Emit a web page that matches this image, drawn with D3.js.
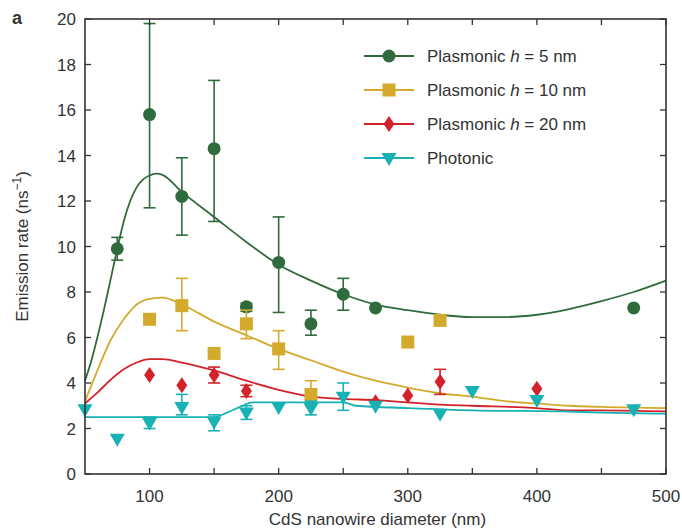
<!DOCTYPE html>
<html>
<head>
<meta charset="utf-8">
<script src="https://cdn.jsdelivr.net/npm/d3@7"></script>
<style>
body { margin: 0; background: #fff; }
text { font-family: "Liberation Sans", Arial, sans-serif; fill: #333; }
</style>
</head>
<body>
<script>
// measured points (diameter nm, rate ns^-1, error low/high or null)
var g5_x = [75, 100, 125, 150, 175, 200, 225, 250, 275, 475];
var g5_y = [9.9, 15.8, 12.2, 14.3, 7.35, 9.3, 6.6, 7.9, 7.3, 7.3];
var g5_lo = [9.4, 11.7, 10.5, 11.1, 7.15, 7.1, 6.1, 7.2, null, null];
var g5_hi = [10.4, 19.8, 13.9, 17.3, 7.5, 11.3, 7.2, 8.6, null, null];

var g10_x = [100, 125, 150, 175, 200, 225, 300, 325];
var g10_y = [6.8, 7.4, 5.3, 6.6, 5.5, 3.5, 5.8, 6.75];
var g10_lo = [null, 6.3, null, 5.95, 4.6, 3.0, null, null];
var g10_hi = [null, 8.6, null, 7.2, 6.3, 4.1, null, null];

var g20_x = [100, 125, 150, 175, 275, 300, 325, 400];
var g20_y = [4.35, 3.9, 4.35, 3.65, 3.15, 3.45, 4.05, 3.75];
var g20_lo = [null, null, 4.0, 3.4, null, null, 3.5, null];
var g20_hi = [null, null, 4.7, 3.9, null, null, 4.6, null];

var ph_x = [50, 75, 100, 125, 150, 175, 200, 225, 250, 275, 325, 350, 400, 475];
var ph_y = [2.85, 1.55, 2.25, 2.95, 2.3, 2.7, 2.95, 2.9, 3.4, 3.0, 2.65, 3.65, 3.25, 2.85];
var ph_lo = [null, null, 2.0, 2.6, 1.9, 2.4, null, 2.6, 2.8, null, null, null, null, null];
var ph_hi = [null, null, 2.5, 3.5, 2.6, 3.0, null, 3.2, 4.0, null, null, null, null, null];

// simulated curves
var c5_x = [50, 55, 60, 65, 70, 75, 80, 85, 90, 95, 100, 105, 110, 125, 150, 175, 200, 225, 250, 275, 300, 325, 350, 375, 400, 425, 450, 475, 500];
var c5_y = [4.1, 5.0, 6.1, 7.3, 8.6, 9.9, 11.1, 12.0, 12.6, 12.95, 13.12, 13.2, 13.15, 12.4, 11.3, 10.2, 9.2, 8.5, 7.9, 7.45, 7.2, 7.0, 6.9, 6.9, 7.0, 7.25, 7.6, 8.0, 8.5];
var c10_x = [50, 60, 70, 80, 90, 100, 110, 125, 150, 175, 200, 225, 250, 275, 300, 325, 350, 375, 400, 425, 450, 500];
var c10_y = [3.2, 4.6, 5.9, 6.8, 7.45, 7.7, 7.75, 7.45, 6.7, 6.1, 5.5, 5.0, 4.5, 4.1, 3.8, 3.55, 3.4, 3.2, 3.1, 3.0, 2.95, 2.9];
var c20_x = [50, 60, 70, 80, 90, 100, 110, 125, 150, 175, 200, 225, 250, 275, 300, 325, 350, 400, 425, 450, 500];
var c20_y = [3.1, 3.6, 4.15, 4.6, 4.9, 5.05, 5.05, 4.9, 4.55, 4.1, 3.7, 3.4, 3.3, 3.25, 3.15, 3.05, 3.0, 2.9, 2.8, 2.8, 2.75];
var cph_x = [50, 100, 150, 160, 170, 180, 250, 260, 300, 350, 420, 450, 500];
var cph_y = [2.5, 2.5, 2.5, 2.7, 2.95, 3.15, 3.15, 3.0, 2.9, 2.8, 2.75, 2.7, 2.65];

var xTicks = [100, 200, 300, 400, 500];
var xMinor = [150, 250, 350, 450];
var yTicks = [0, 2, 4, 6, 8, 10, 12, 14, 16, 18, 20];

var series = [
  {name: "5", color: "#2f6b3c", shape: "circle", x: g5_x, y: g5_y, lo: g5_lo, hi: g5_hi, cx: c5_x, cy: c5_y},
  {name: "10", color: "#d4aa2c", shape: "square", x: g10_x, y: g10_y, lo: g10_lo, hi: g10_hi, cx: c10_x, cy: c10_y},
  {name: "20", color: "#d2232a", shape: "diamond", x: g20_x, y: g20_y, lo: g20_lo, hi: g20_hi, cx: c20_x, cy: c20_y},
  {name: "Photonic", color: "#18b1b4", shape: "tri", x: ph_x, y: ph_y, lo: ph_lo, hi: ph_hi, cx: cph_x, cy: cph_y}
];

var W = 682, H = 532;
var pl = 85, pr = 666, pt = 19, pb = 474;

var svg = d3.select("body").append("svg")
  .attr("width", W).attr("height", H);

var x = d3.scaleLinear().domain([50, 500]).range([pl, pr]);
var y = d3.scaleLinear().domain([0, 20]).range([pb, pt]);

// curves
var line = d3.line().x(d => x(d[0])).y(d => y(d[1])).curve(d3.curveMonotoneX);
series.forEach(s => {
  svg.append("path")
    .datum(s.cx.map((v, i) => [v, s.cy[i]]))
    .attr("d", line)
    .attr("fill", "none")
    .attr("stroke", s.color)
    .attr("stroke-width", 1.8);
});

function drawMarker(g, shape, color) {
  if (shape == "circle") {
    g.append("circle").attr("r", 6.5).attr("fill", color);
  } else if (shape == "square") {
    g.append("rect").attr("x", -6.5).attr("y", -6.5).attr("width", 13).attr("height", 13).attr("fill", color);
  } else if (shape == "diamond") {
    g.append("path").attr("d", "M0,-8 L5.5,0 L0,8 L-5.5,0Z").attr("fill", color);
  } else {
    g.append("path").attr("d", "M-7.5,-5 L7.5,-5 L0,8Z").attr("fill", color);
  }
}

// error bars + markers
series.forEach(s => {
  var pts = s.x.map((v, i) => ({x: v, y: s.y[i], lo: s.lo[i], hi: s.hi[i]}));
  var eb = svg.append("g").attr("stroke", s.color).attr("stroke-width", 1.6);
  pts.filter(d => d.lo != null).forEach(d => {
    eb.append("line").attr("x1", x(d.x)).attr("x2", x(d.x)).attr("y1", y(d.lo)).attr("y2", y(d.hi));
    eb.append("line").attr("x1", x(d.x) - 6).attr("x2", x(d.x) + 6).attr("y1", y(d.lo)).attr("y2", y(d.lo));
    eb.append("line").attr("x1", x(d.x) - 6).attr("x2", x(d.x) + 6).attr("y1", y(d.hi)).attr("y2", y(d.hi));
  });
  pts.forEach(d => {
    var g = svg.append("g").attr("transform", `translate(${x(d.x)},${y(d.y)})`);
    drawMarker(g, s.shape, s.color);
  });
});

// frame and ticks
svg.append("rect")
  .attr("x", pl).attr("y", pt)
  .attr("width", pr - pl).attr("height", pb - pt)
  .attr("fill", "none").attr("stroke", "#333").attr("stroke-width", 1.6);

var tk = svg.append("g").attr("stroke", "#333").attr("stroke-width", 1.3);
xTicks.concat(xMinor).forEach(t => {
  tk.append("line").attr("x1", x(t)).attr("x2", x(t)).attr("y1", pb).attr("y2", pb - 6);
  tk.append("line").attr("x1", x(t)).attr("x2", x(t)).attr("y1", pt).attr("y2", pt + 6);
});
yTicks.forEach(t => {
  tk.append("line").attr("x1", pl).attr("x2", pl + 6).attr("y1", y(t)).attr("y2", y(t));
  tk.append("line").attr("x1", pr).attr("x2", pr - 6).attr("y1", y(t)).attr("y2", y(t));
});

svg.selectAll(".xl").data(xTicks).enter().append("text")
  .attr("x", d => x(d)).attr("y", pb + 28)
  .attr("text-anchor", "middle").attr("font-size", 17)
  .text(d => d);
svg.selectAll(".yl").data(yTicks).enter().append("text")
  .attr("x", pl - 9).attr("y", d => y(d) + 6)
  .attr("text-anchor", "end").attr("font-size", 17)
  .text(d => d);

svg.append("text").attr("x", (pl + pr) / 2 + 2).attr("y", 525)
  .attr("text-anchor", "middle").attr("font-size", 17)
  .text("CdS nanowire diameter (nm)");

var yl = svg.append("text")
  .attr("transform", `translate(28,${(pt + pb) / 2}) rotate(-90)`)
  .attr("text-anchor", "middle").attr("font-size", 17);
yl.append("tspan").text("Emission rate (ns");
yl.append("tspan").attr("dy", -7).attr("font-size", 12).text("\u22121");
yl.append("tspan").attr("dy", 7).text(")");

svg.append("text").attr("x", 12).attr("y", 24)
  .attr("font-size", 18).attr("font-weight", "bold").text("a");

// legend
series.forEach((s, i) => {
  var ly = 56 + i * 34;
  svg.append("line").attr("x1", 364).attr("x2", 414).attr("y1", ly).attr("y2", ly)
    .attr("stroke", s.color).attr("stroke-width", 1.8);
  var g = svg.append("g").attr("transform", `translate(389,${ly})`);
  drawMarker(g, s.shape, s.color);
  var t = svg.append("text").attr("x", 427).attr("y", ly + 6).attr("font-size", 17);
  if (s.name == "Photonic") {
    t.text("Photonic");
  } else {
    t.append("tspan").text("Plasmonic ");
    t.append("tspan").attr("font-style", "italic").text("h");
    t.append("tspan").text(" = " + s.name + " nm");
  }
});
</script>
</body>
</html>
